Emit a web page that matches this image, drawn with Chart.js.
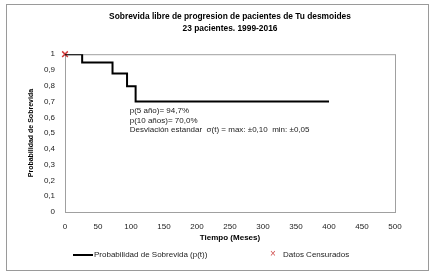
<!DOCTYPE html>
<html>
<head>
<meta charset="utf-8">
<script src="https://cdn.jsdelivr.net/npm/chart.js@4"></script>
<style>
  body { margin: 0; background: #fff; font-family: "Liberation Sans", Arial, sans-serif; }
  .frame { position: absolute; left: 6px; top: 4px; width: 423px; height: 267px; border: 1px solid #9a9a9a; box-sizing: border-box; }
  .frame canvas { position: absolute; left: 0; top: 0; }
  .legend { position: absolute; top: 250px; left: 0; font-size: 8px; color: #222; height: 10px; }
  .legend span { position: absolute; white-space: nowrap; line-height: 10px; }
  .swatch-line { top: 4px; width: 20px; height: 2px; background: #000; }
  .swatch-x { color: #d05050; font-size: 10px; }
</style>
</head>
<body>
<div class="frame">
  <canvas id="kmChart" width="421" height="265"></canvas>
</div>
<div class="legend">
  <span class="swatch-line" style="left:73px"></span>
  <span style="left:94px">Probabilidad de Sobrevida (p(t))</span>
  <span class="swatch-x" style="left:270px;top:-1px">×</span>
  <span style="left:283px">Datos Censurados</span>
</div>
<script>
// Kaplan-Meier steps (months, survival)
const months = [0, 26, 72, 94, 107, 400];
const survival = [1, 0.947, 0.877, 0.797, 0.70, 0.70];

// censored data
const censoredMonths = [0];
const censoredSurvival = [1];

const titleLines = ['Sobrevida libre de progresion de pacientes de Tu desmoides', '23 pacientes. 1999-2016'];
const noteLines = [
  'p(5 año)= 94,7%',
  'p(10 años)= 70,0%',
  'Desviación estandar  σ(t) = max: ±0,10  min: ±0,05'
];

// Grey box round the plot area
const plotBorder = {
  id: 'plotBorder',
  beforeDatasetsDraw(chart) {
    const { ctx, chartArea: a } = chart;
    ctx.save();
    ctx.strokeStyle = '#a0a0a0';
    ctx.lineWidth = 1;
    ctx.strokeRect(a.left + 0.5, a.top + 0.5, a.right - a.left, a.bottom - a.top);
    ctx.restore();
  }
};

// Text note inside the plot
const noteText = {
  id: 'noteText',
  afterDatasetsDraw(chart) {
    const { ctx, scales } = chart;
    const x = scales.x.getPixelForValue(98);
    const y = scales.y.getPixelForValue(0.64);
    ctx.save();
    ctx.font = '8px "Liberation Sans", Arial, sans-serif';
    ctx.fillStyle = '#222';
    ctx.textBaseline = 'middle';
    noteLines.forEach((line, i) => ctx.fillText(line, x, y + i * 9.5));
    ctx.restore();
  }
};

const tickFont = { family: '"Liberation Sans", Arial, sans-serif', size: 8 };

new Chart(document.getElementById('kmChart'), {
  type: 'scatter',
  data: {
    datasets: [{
      label: 'Probabilidad de Sobrevida (p(t))',
      data: months.map((m, i) => ({ x: m, y: survival[i] })),
      showLine: true,
      stepped: true,
      borderColor: '#000',
      borderWidth: 2,
      pointRadius: 0
    }, {
      label: 'Datos Censurados',
      data: censoredMonths.map((m, i) => ({ x: m, y: censoredSurvival[i] })),
      pointStyle: 'crossRot',
      pointRadius: 4,
      borderColor: '#d03c3c',
      borderWidth: 1.5,
      clip: false
    }]
  },
  options: {
    responsive: false,
    animation: false,
    layout: { padding: { left: 0, right: 33, bottom: 27 } },
    plugins: {
      legend: { display: false },
      tooltip: { enabled: false },
      title: {
        display: true,
        fullSize: false,
        text: titleLines,
        color: '#000',
        font: { family: '"Liberation Sans", Arial, sans-serif', size: 8.4, weight: 'bold', lineHeight: 1.5 },
        padding: { top: 5, bottom: 19 }
      }
    },
    scales: {
      x: {
        type: 'linear',
        min: 0,
        max: 500,
        ticks: { stepSize: 50, color: '#222', font: tickFont, padding: 10, maxRotation: 0 },
        grid: { display: false, drawTicks: false },
        border: { color: '#a0a0a0' },
        title: {
          display: true,
          text: 'Tiempo (Meses)',
          color: '#000',
          font: { family: '"Liberation Sans", Arial, sans-serif', size: 8, weight: 'bold' },
          padding: { top: 1, bottom: 0 }
        },
        afterFit(axis) { axis.height = 31; }
      },
      y: {
        min: 0,
        max: 1,
        ticks: {
          stepSize: 0.1,
          color: '#222',
          font: tickFont,
          padding: 10,
          callback: v => String(Math.round(v * 10) / 10).replace('.', ',')
        },
        grid: { display: false, drawTicks: false },
        border: { color: '#a0a0a0' },
        title: {
          display: true,
          text: 'Probabilidad de Sobrevida',
          color: '#000',
          font: { family: '"Liberation Sans", Arial, sans-serif', size: 7, weight: 'bold' },
          padding: { top: 20, bottom: 0 }
        },
        afterFit(axis) { axis.width = 58; }
      }
    }
  },
  plugins: [plotBorder, noteText]
});
</script>
</body>
</html>
